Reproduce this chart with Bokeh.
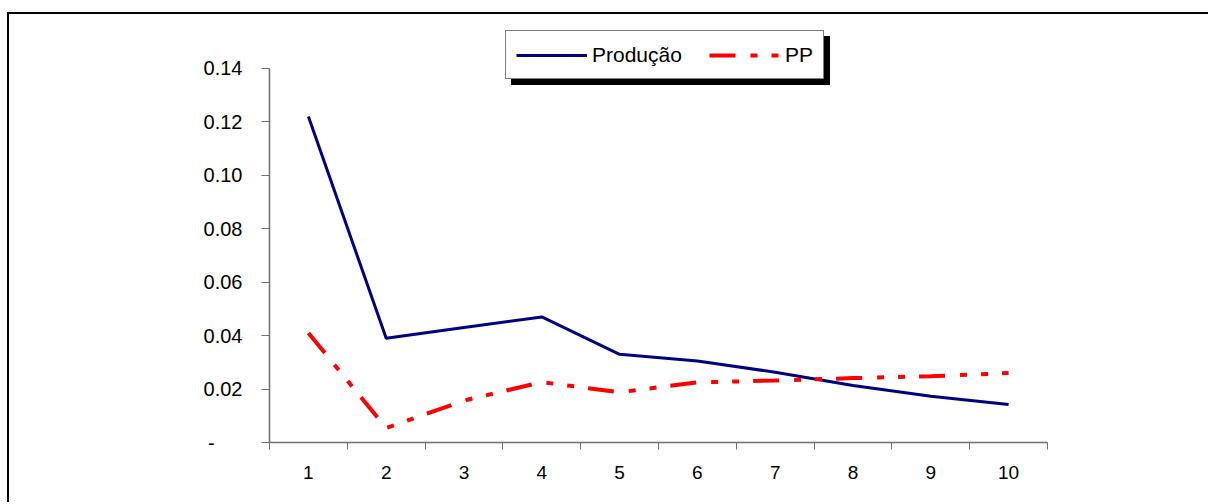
from bokeh.plotting import figure
from bokeh.models import Range1d, FixedTicker, NumeralTickFormatter, Legend, LegendItem
from bokeh.embed import file_html
from bokeh.resources import INLINE

categories = ["1", "2", "3", "4", "5", "6", "7", "8", "9", "10"]
producao = [0.122, 0.039, 0.043, 0.047, 0.033, 0.0305, 0.0263, 0.0213, 0.0173, 0.0142]
pp = [0.041, 0.0054, 0.0157, 0.0226, 0.0188, 0.0225, 0.0232, 0.0241, 0.0248, 0.026]
y_ticks = [0.0, 0.02, 0.04, 0.06, 0.08, 0.10, 0.12, 0.14]
series_names = ["Produção", "PP"]

xs = list(range(1, len(categories) + 1))
FONT = "Liberation Sans"

# frame extends above the 0.14 tick so the legend (drawn above the axis top) is not clipped
p = figure(width=1201, height=490, output_backend="svg", toolbar_location=None,
           x_range=Range1d(0.5, len(categories) + 0.5), y_range=Range1d(0, 0.1542),
           min_border_left=260, min_border_right=163, min_border_top=16, min_border_bottom=62)
p.styles = {"margin-left": "7px", "margin-top": "12px",
            "border-left": "2px solid black", "border-top": "2px solid black"}
p.outline_line_color = None
p.xgrid.grid_line_color = None
p.ygrid.grid_line_color = None
p.background_fill_color = "white"
p.border_fill_color = "white"

r1 = p.line(xs, producao, line_color="#000080", line_width=3)
r2 = p.line(xs, pp, line_color="#FF0000", line_width=4, line_dash="26 15 7 14 7 14")

# x axis: labels at centres, ticks at category boundaries
xa = p.xaxis[0]
xa.ticker = FixedTicker(ticks=xs, minor_ticks=[x - 0.5 for x in xs] + [xs[-1] + 0.5])
xa.major_label_overrides = {x: c for x, c in zip(xs, categories)}
xa.major_tick_line_color = None
xa.major_tick_out = 0
xa.major_tick_in = 0
xa.minor_tick_line_color = "#707070"
xa.minor_tick_out = 7
xa.minor_tick_in = 0
xa.axis_line_color = "#707070"
xa.axis_line_width = 1.5
xa.major_label_text_font = FONT
xa.major_label_text_font_size = "19px"
xa.major_label_text_color = "black"
xa.major_label_standoff = 16

ya = p.yaxis[0]
ya.ticker = FixedTicker(ticks=y_ticks, minor_ticks=[])
ya.bounds = (y_ticks[0], y_ticks[-1])
ya.formatter = NumeralTickFormatter(format="0.00")
ya.major_label_overrides = {0: "-" + "\u00a0" * 5}
ya.major_tick_line_color = "#707070"
ya.major_tick_out = 8
ya.major_tick_in = 0
ya.axis_line_color = "#707070"
ya.axis_line_width = 1.5
ya.major_label_text_font = FONT
ya.major_label_text_font_size = "20px"
ya.major_label_text_color = "black"
ya.major_label_standoff = 19

common = dict(orientation="horizontal", padding=10, label_standoff=5,
              glyph_width=71, glyph_height=20, label_height=27,
              label_text_font=FONT, label_text_font_size="21px",
              label_text_color="black", background_fill_alpha=1.0,
              border_line_color="black", border_line_width=1, click_policy="none")

# drop shadow: a plain black box of the same size, offset down-right
shadow = Legend(items=[LegendItem(label=" ", renderers=[r1])], location=(242, 357),
                spacing=0, label_width=221, background_fill_color="black", **common)
main = Legend(items=[LegendItem(label=series_names[0], renderers=[r1]),
                     LegendItem(label=series_names[1], renderers=[r2])],
              location=(236, 363), spacing=27, background_fill_color="white", **common)

p.add_layout(shadow)
p.add_layout(main)

open("out.html", "w").write(file_html(p, INLINE))
